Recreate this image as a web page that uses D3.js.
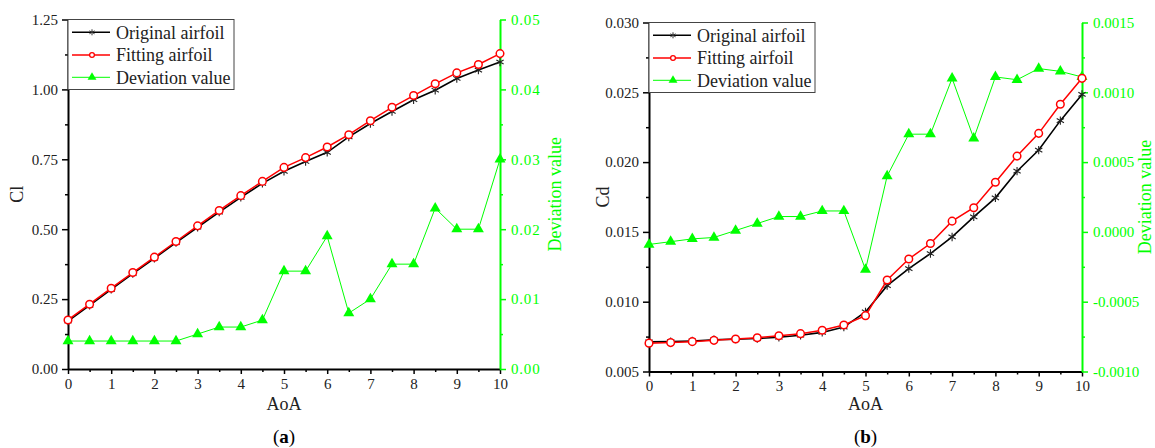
<!DOCTYPE html>
<html><head><meta charset="utf-8">
<script src="https://cdn.jsdelivr.net/npm/d3@7"></script>
<style>
body{margin:0;background:#fff;}
svg{display:block;}
</style></head>
<body><svg id="c" width="1155" height="448" font-family="Liberation Serif, Times New Roman, serif"></svg>
<script>
// ---- data ----
const aoa = [0,0.5,1,1.5,2,2.5,3,3.5,4,4.5,5,5.5,6,6.5,7,7.5,8,8.5,9,9.5,10];

const clOriginal = [0.1715,0.2277,0.285,0.341,0.396,0.452,0.507,0.561,0.614,0.664,0.707,0.742,0.775,0.830,0.878,0.921,0.963,0.997,1.039,1.069,1.098];
const clFitting  = [0.1755,0.2317,0.289,0.345,0.400,0.456,0.512,0.567,0.620,0.671,0.721,0.756,0.794,0.838,0.888,0.936,0.978,1.020,1.059,1.089,1.128];
const clDeviation = [0.004,0.004,0.004,0.004,0.004,0.004,0.005,0.006,0.006,0.007,0.014,0.014,0.019,0.008,0.010,0.015,0.015,0.023,0.020,0.020,0.030];

const cdOriginal = [0.00712,0.00714,0.00719,0.00727,0.00732,0.00736,0.00745,0.00760,0.00780,0.00818,0.00927,0.01115,0.01237,0.01345,0.01464,0.01608,0.01744,0.01935,0.02086,0.02297,0.02485];
const cdFitting  = [0.00703,0.00707,0.00714,0.00723,0.00733,0.00742,0.00756,0.00771,0.00795,0.00833,0.00900,0.01155,0.01306,0.01417,0.01577,0.01673,0.01856,0.02043,0.02206,0.02414,0.02600];
const cdDeviation = [-0.00009,-0.00007,-0.00005,-0.00004,0.00001,0.00006,0.00011,0.00011,0.00015,0.00015,-0.00027,0.0004,0.0007,0.0007,0.0011,0.00067,0.00111,0.00109,0.00117,0.00115,0.00111];

const xTicks = [0,1,2,3,4,5,6,7,8,9,10];
const clTicks = [0,0.25,0.5,0.75,1.0,1.25];
const clDevTicks = [0,0.01,0.02,0.03,0.04,0.05];
const cdTicks = [0.005,0.010,0.015,0.020,0.025,0.030];
const cdDevTicks = [-0.001,-0.0005,0,0.0005,0.001,0.0015];
const legendLabels = ["Original airfoil","Fitting airfoil","Deviation value"];

// ---- drawing ----
const SERIF = "Liberation Serif, Times New Roman, serif";
const svg = d3.select("#c");
const GREEN = "#00ff00";
const fixMinus = f => d => f(d).replace("\u2212","-");

function minors(ticks){
  const out=[];
  for(let i=0;i<ticks.length-1;i++) out.push((ticks[i]+ticks[i+1])/2);
  return out;
}

function drawPanel(o){
  const g = svg.append("g").attr("font-family",SERIF);
  const x = d3.scaleLinear().domain([0,10]).range([o.left,o.right]);
  const yL = d3.scaleLinear().domain(o.lDomain).range([o.bottom,o.top]);
  const yR = d3.scaleLinear().domain(o.rDomain).range([o.bottom,o.top]);

  const bx = g.append("g").attr("transform",`translate(0,${o.bottom})`);
  bx.call(d3.axisBottom(x).tickValues(minors(xTicks)).tickSize(3).tickSizeOuter(0).tickFormat(""));
  bx.select(".domain").remove();
  const bx2 = g.append("g").attr("transform",`translate(0,${o.bottom})`);
  bx2.call(d3.axisBottom(x).tickValues(xTicks).tickSize(5).tickSizeOuter(0).tickPadding(4).tickFormat(d3.format("d")));

  const la = g.append("g").attr("transform",`translate(${o.left},0)`);
  la.call(d3.axisLeft(yL).tickValues(minors(o.lTicks)).tickSize(3).tickSizeOuter(0).tickFormat(""));
  la.select(".domain").remove();
  const la2 = g.append("g").attr("transform",`translate(${o.left},0)`);
  la2.call(d3.axisLeft(yL).tickValues(o.lTicks).tickSize(6).tickSizeOuter(0).tickPadding(4).tickFormat(fixMinus(d3.format(o.lFmt))));

  const ra = g.append("g").attr("transform",`translate(${o.right},0)`);
  ra.call(d3.axisRight(yR).tickValues(minors(o.rTicks)).tickSize(3).tickSizeOuter(0).tickFormat(""));
  ra.select(".domain").remove();
  const ra2 = g.append("g").attr("transform",`translate(${o.right},0)`);
  ra2.call(d3.axisRight(yR).tickValues(o.rTicks).tickSize(6).tickSizeOuter(0).tickPadding(5).tickFormat(fixMinus(d3.format(o.rFmt))));

  [bx,bx2,la,la2,ra,ra2].forEach(a=>a.attr("font-family",SERIF).attr("font-size",15));
  [bx,bx2,la,la2].forEach(a=>{
    a.selectAll("line").attr("stroke","#000").attr("stroke-width",1.5);
    a.selectAll(".domain").attr("stroke","#000").attr("stroke-width",2);
    a.selectAll("text").attr("fill","#222");
  });
  [ra,ra2].forEach(a=>{
    a.selectAll("line").attr("stroke",GREEN).attr("stroke-width",1.5);
    a.selectAll(".domain").attr("stroke",GREEN).attr("stroke-width",2);
    a.selectAll("text").attr("fill",GREEN).attr("letter-spacing",o.rSpacing||0);
  });

  const lineL = d3.line().x((d,i)=>x(aoa[i])).y(d=>yL(d));
  const lineR = d3.line().x((d,i)=>x(aoa[i])).y(d=>yR(d));

  g.append("path").datum(o.dev).attr("d",lineR).attr("fill","none").attr("stroke",GREEN).attr("stroke-width",1);
  g.selectAll(".tri").data(o.dev).enter().append("path")
    .attr("transform",(d,i)=>`translate(${x(aoa[i])},${yR(d)})`)
    .attr("d",d3.symbol().type(d3.symbolTriangle).size(52))
    .attr("fill",GREEN);

  g.append("path").datum(o.orig).attr("d",lineL).attr("fill","none").attr("stroke","#000").attr("stroke-width",1.6);
  const star = (s)=>{const a=s*Math.cos(Math.PI/6), b=s*Math.sin(Math.PI/6);
    return `M0,${-s}L0,${s}M${-a},${-b}L${a},${b}M${-a},${b}L${a},${-b}`;};
  g.selectAll(".star").data(o.orig).enter().append("path")
    .attr("transform",(d,i)=>`translate(${x(aoa[i])},${yL(d)})`)
    .attr("d",star(4.2)).attr("stroke","#222").attr("stroke-width",1.1).attr("fill","none");

  g.append("path").datum(o.fit).attr("d",lineL).attr("fill","none").attr("stroke","#ff0000").attr("stroke-width",1.5);
  g.selectAll(".circ").data(o.fit).enter().append("circle")
    .attr("cx",(d,i)=>x(aoa[i])).attr("cy",d=>yL(d)).attr("r",3.8)
    .attr("fill","#fff").attr("stroke","#ff0000").attr("stroke-width",1.5);

  const cx = (o.left+o.right)/2, cy=(o.top+o.bottom)/2;
  g.append("text").attr("x",cx).attr("y",410).attr("text-anchor","middle").attr("font-size",18).attr("fill","#222").text("AoA");
  g.append("text").attr("transform",`translate(${o.lTitleX},${cy}) rotate(-90)`).attr("text-anchor","middle")
    .attr("dy","0.35em").attr("font-size",18).attr("fill","#222").text(o.lTitle);
  g.append("text").attr("transform",`translate(${o.rTitleX},${cy}) rotate(-90)`).attr("text-anchor","middle")
    .attr("dy","0.35em").attr("font-size",18).attr("fill",GREEN).text("Deviation value");
  const pl = g.append("text").attr("x",cx).attr("y",443).attr("text-anchor","middle").attr("font-size",19).attr("fill","#000");
  pl.append("tspan").text("(");
  pl.append("tspan").attr("font-weight","bold").text(o.panel);
  pl.append("tspan").text(")");

  const lg = g.append("g").attr("transform",`translate(${o.left},${o.top})`);
  lg.append("rect").attr("x",0).attr("y",0).attr("width",166).attr("height",70)
    .attr("fill","#fff").attr("stroke","#444").attr("stroke-width",1);
  const rows=[12.8,35.5,57.8];
  const cols=["#000","#ff0000",GREEN];
  legendLabels.forEach((t,i)=>{
    const ry=rows[i];
    lg.append("line").attr("x1",4).attr("x2",42).attr("y1",ry).attr("y2",ry)
      .attr("stroke",cols[i]).attr("stroke-width",i===2?1:1.5);
    if(i===0) lg.append("path").attr("transform",`translate(24,${ry})`).attr("d",star(3)).attr("stroke","#333").attr("stroke-width",1).attr("fill","none");
    if(i===1) lg.append("circle").attr("cx",24).attr("cy",ry).attr("r",2.4).attr("fill","#fff").attr("stroke","#ff0000").attr("stroke-width",1.3);
    if(i===2) lg.append("path").attr("transform",`translate(24,${ry})`).attr("d",d3.symbol().type(d3.symbolTriangle).size(34)).attr("fill",GREEN);
    lg.append("text").attr("x",48).attr("y",ry).attr("dy","0.35em").attr("font-size",18).attr("fill","#222").text(t);
  });
}

drawPanel({panel:"a", left:68, right:500, top:19.5, bottom:369,
  lDomain:[0,1.25], rDomain:[0,0.05], lTicks:clTicks, rTicks:clDevTicks,
  lFmt:".2f", rFmt:".2f", rSpacing:0.8,
  orig:clOriginal, fit:clFitting, dev:clDeviation,
  lTitle:"Cl", lTitleX:17, rTitleX:555});

drawPanel({panel:"b", left:649, right:1082, top:22.5, bottom:371.5,
  lDomain:[0.005,0.030], rDomain:[-0.001,0.0015], lTicks:cdTicks, rTicks:cdDevTicks,
  lFmt:".3f", rFmt:".4f",
  orig:cdOriginal, fit:cdFitting, dev:cdDeviation,
  lTitle:"Cd", lTitleX:603, rTitleX:1145});
</script></body></html>
